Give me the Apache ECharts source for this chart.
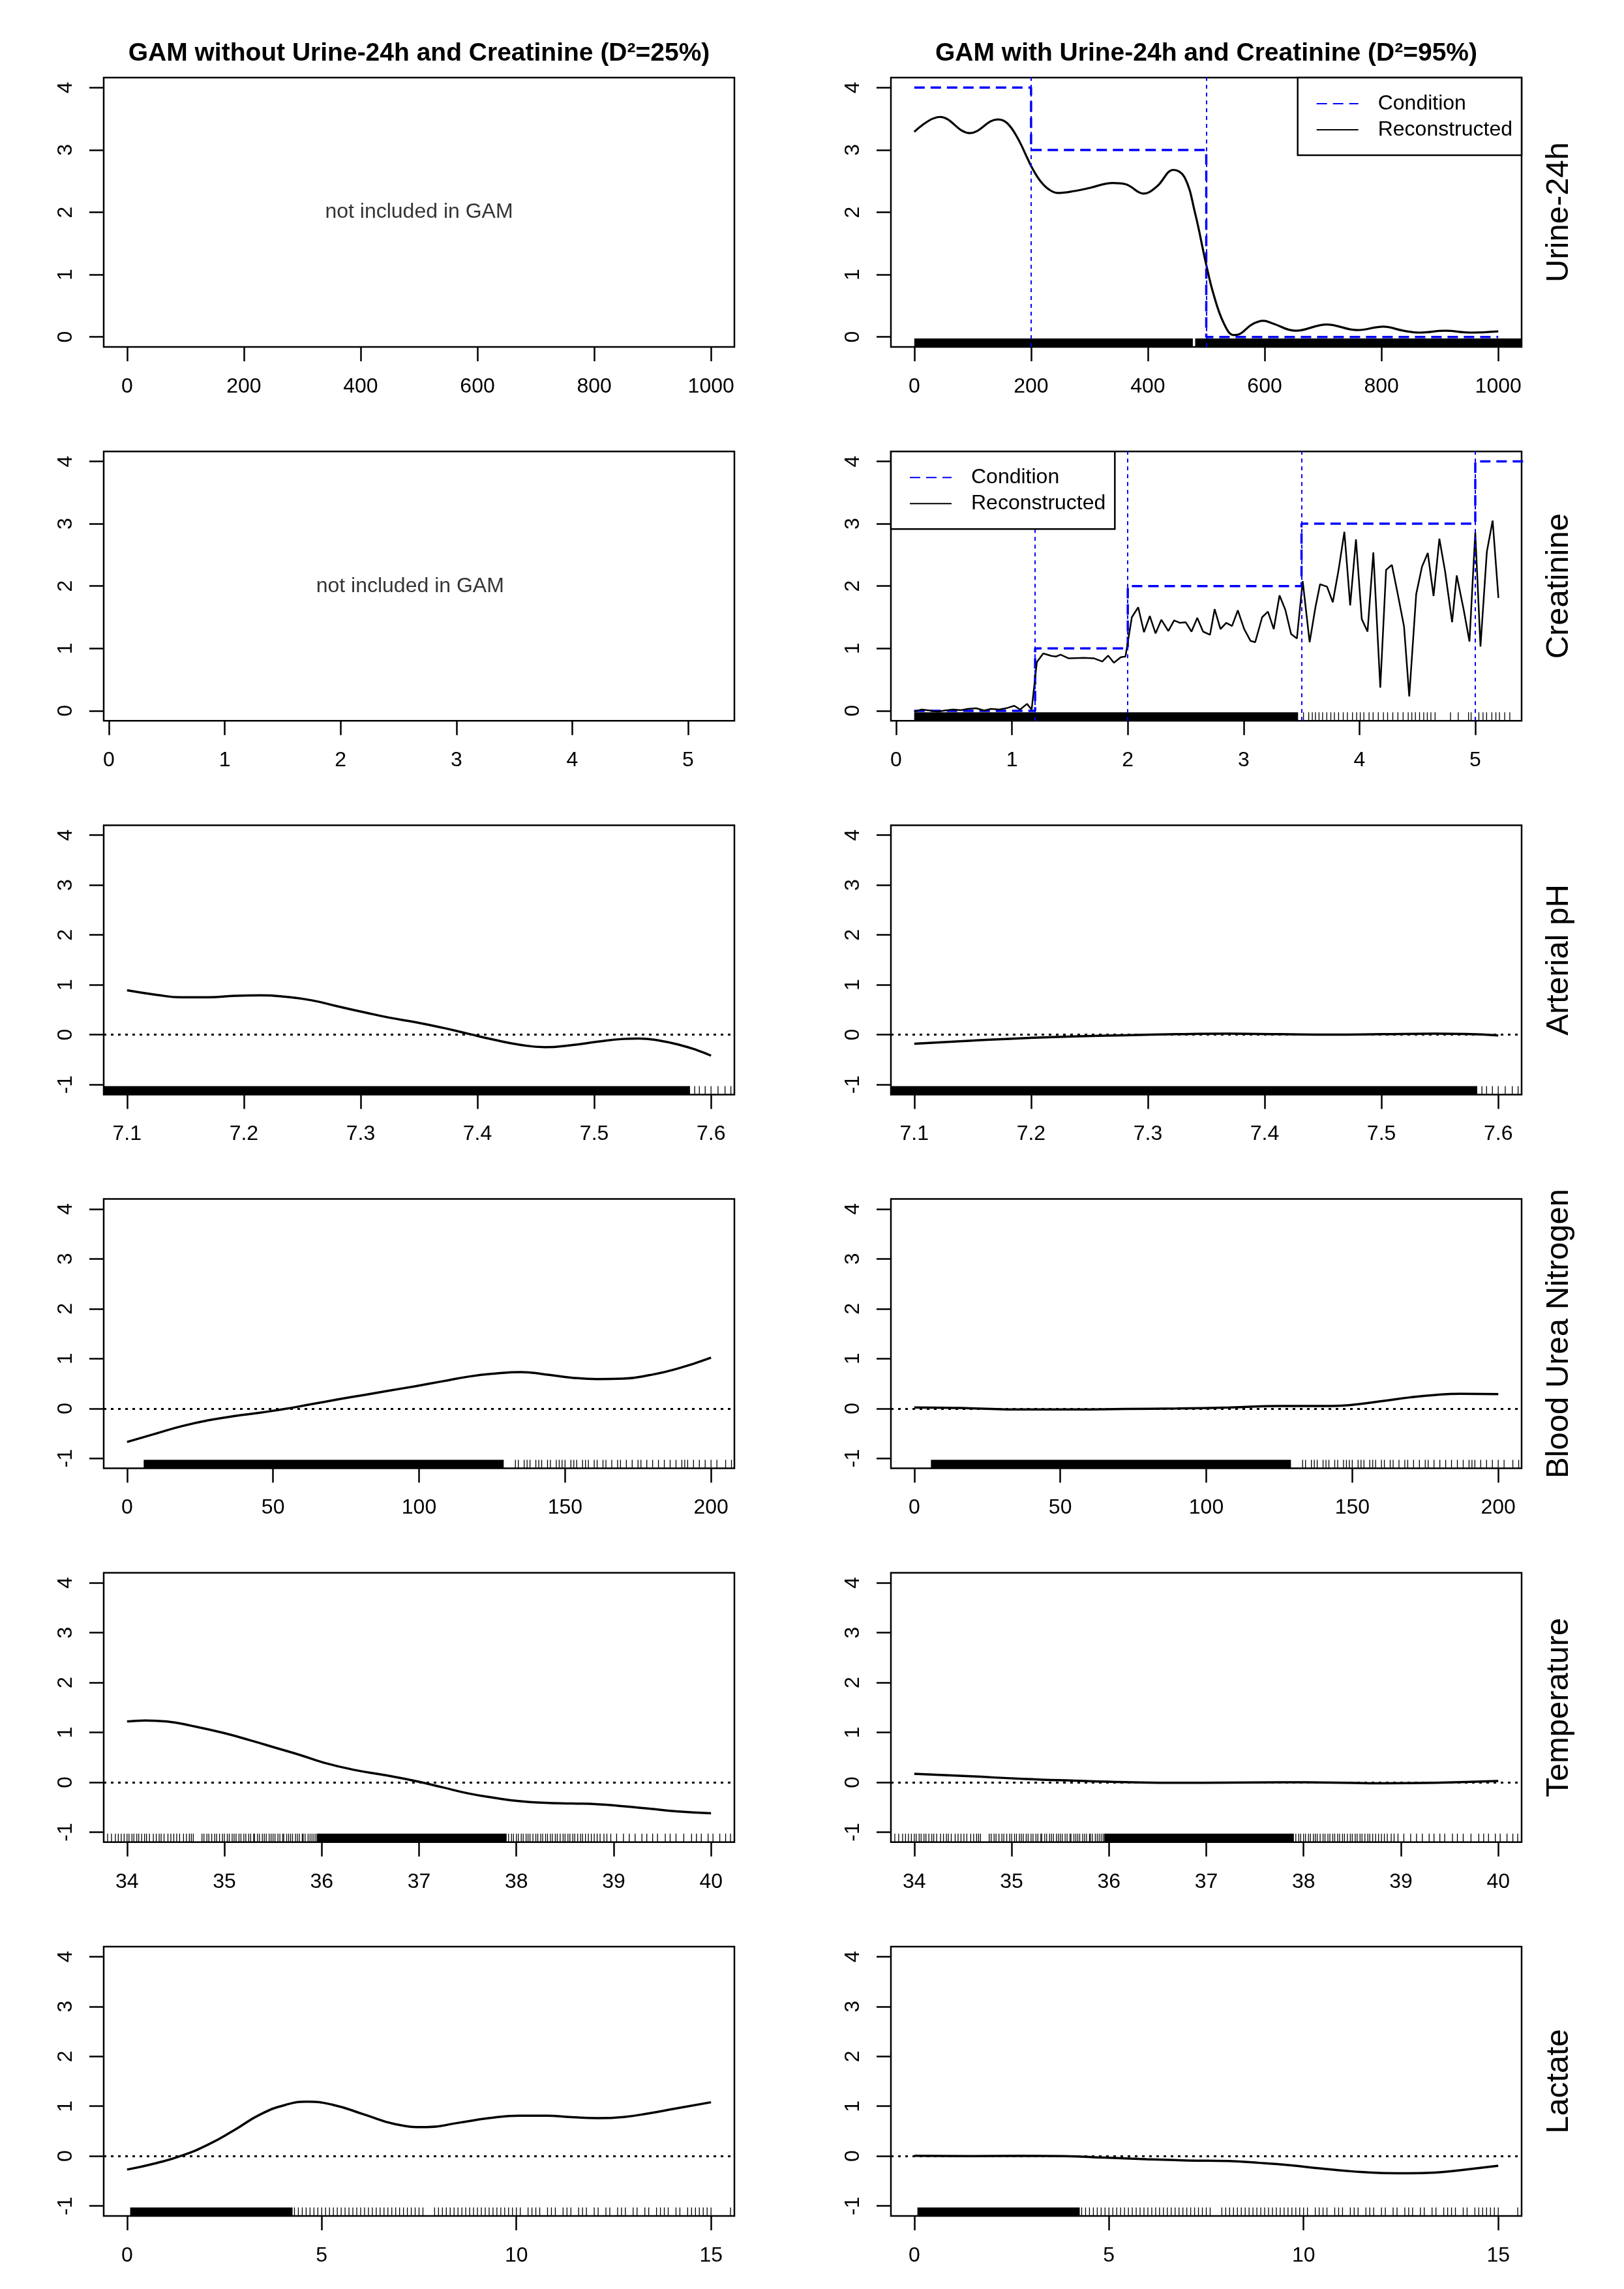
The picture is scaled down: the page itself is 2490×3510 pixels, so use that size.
<!DOCTYPE html>
<html><head><meta charset="utf-8">
<script src="https://cdn.jsdelivr.net/npm/echarts@6/dist/echarts.min.js"></script>
<style>html,body{margin:0;padding:0;background:#fff}#c{width:2490px;height:3510px}</style>
</head><body><div id="c"></div><script>
// ---------------- data ----------------
const titleLeft = 'GAM without Urine-24h and Creatinine (D\u00B2=25%)';
const titleRight = 'GAM with Urine-24h and Creatinine (D\u00B2=95%)';
const noteText = 'not included in GAM';
const panelNames = ['Urine-24h', 'Creatinine', 'Arterial pH', 'Blood Urea Nitrogen', 'Temperature', 'Lactate'];

const xTicksUrine = [0, 200, 400, 600, 800, 1000];
const xTicksCreat = [0, 1, 2, 3, 4, 5];
const xTicksPH = [7.1, 7.2, 7.3, 7.4, 7.5, 7.6];
const xTicksBUN = [0, 50, 100, 150, 200];
const xTicksTemp = [34, 35, 36, 37, 38, 39, 40];
const xTicksLact = [0, 5, 10, 15];
const yTicksTop = [0, 1, 2, 3, 4];
const yTicksLow = [-1, 0, 1, 2, 3, 4];

// Urine-24h (with model)
const urineCondBreaks = [0, 200, 500, 1000];
const urineCondLevels = [4, 3, 0];
const urineX = [0, 44, 95, 143, 159, 177, 194, 203, 216, 230, 245, 274, 300, 340, 362, 393, 415, 444, 463, 481, 499, 512, 530, 547, 558, 578, 598, 613, 653, 706, 759, 803, 838, 865, 909, 953, 1000];
const urineY = [3.29, 3.53, 3.27, 3.49, 3.43, 3.19, 2.86, 2.69, 2.50, 2.37, 2.31, 2.34, 2.39, 2.47, 2.45, 2.30, 2.41, 2.68, 2.56, 1.98, 1.20, 0.70, 0.22, 0.03, 0.05, 0.20, 0.26, 0.22, 0.10, 0.20, 0.11, 0.165, 0.10, 0.07, 0.10, 0.07, 0.09];
const urineRugBands = [[0, 477], [481, 1045]];
const urineRugTicks = [];

// Creatinine (with model)
const creatCondBreaks = [0.156, 1.2, 2, 3.5, 5, 5.6];
const creatCondLevels = [0, 1, 2, 3, 4];
const creatX = [0.156, 0.22, 0.29, 0.36, 0.42, 0.49, 0.56, 0.62, 0.69, 0.76, 0.82, 0.89, 0.95, 1.02, 1.07, 1.13, 1.17, 1.215, 1.27, 1.34, 1.38, 1.42, 1.49, 1.62, 1.71, 1.78, 1.83, 1.88, 1.94, 1.98, 2.035, 2.09, 2.14, 2.19, 2.24, 2.29, 2.35, 2.40, 2.45, 2.50, 2.55, 2.60, 2.65, 2.71, 2.75, 2.80, 2.85, 2.90, 2.95, 3.005, 3.06, 3.10, 3.16, 3.21, 3.26, 3.31, 3.36, 3.41, 3.46, 3.51, 3.57, 3.62, 3.66, 3.72, 3.77, 3.82, 3.87, 3.92, 3.97, 4.02, 4.07, 4.12, 4.18, 4.23, 4.28, 4.33, 4.385, 4.43, 4.49, 4.54, 4.59, 4.64, 4.69, 4.74, 4.80, 4.84, 4.90, 4.95, 5.00, 5.045, 5.10, 5.15, 5.20];
const creatY = [-0.015, 0.02, 0.005, -0.015, 0.005, 0.02, 0.01, 0.03, 0.04, 0.005, 0.03, 0.02, 0.04, 0.08, 0.02, 0.11, 0.02, 0.78, 0.92, 0.88, 0.87, 0.90, 0.84, 0.85, 0.84, 0.79, 0.885, 0.77, 0.86, 0.87, 1.50, 1.66, 1.26, 1.52, 1.24, 1.46, 1.28, 1.45, 1.41, 1.42, 1.27, 1.49, 1.27, 1.22, 1.63, 1.31, 1.41, 1.36, 1.61, 1.31, 1.12, 1.10, 1.50, 1.59, 1.31, 1.85, 1.62, 1.23, 1.16, 2.08, 1.10, 1.66, 2.03, 1.99, 1.74, 2.26, 2.87, 1.69, 2.75, 1.47, 1.27, 2.54, 0.37, 2.26, 2.34, 1.88, 1.35, 0.23, 1.87, 2.31, 2.53, 1.84, 2.76, 2.23, 1.42, 2.17, 1.62, 1.11, 2.86, 1.03, 2.55, 3.05, 1.81];
const creatRugBands = [[0.156, 3.47]];
const creatRugTicks = [3.517, 3.562, 3.593, 3.620, 3.651, 3.682, 3.718, 3.753, 3.784, 3.820, 3.860, 3.896, 3.940, 3.976, 4.007, 4.038, 4.083, 4.118, 4.163, 4.207, 4.243, 4.288, 4.332, 4.377, 4.421, 4.452, 4.483, 4.519, 4.555, 4.586, 4.617, 4.653, 4.786, 4.853, 4.942, 4.964, 5.031, 5.067, 5.098, 5.143, 5.178, 5.209, 5.254, 5.298];

// Arterial pH
const phLeftX = [7.1, 7.125, 7.147, 7.169, 7.192, 7.214, 7.236, 7.258, 7.28, 7.303, 7.325, 7.347, 7.37, 7.392, 7.414, 7.436, 7.458, 7.48, 7.503, 7.525, 7.538, 7.556, 7.574, 7.588, 7.6];
const phLeftY = [0.89, 0.80, 0.75, 0.75, 0.78, 0.79, 0.76, 0.69, 0.57, 0.45, 0.34, 0.25, 0.14, 0.02, -0.10, -0.20, -0.25, -0.21, -0.14, -0.085, -0.076, -0.12, -0.21, -0.31, -0.42];
const phRightX = [7.1, 7.149, 7.193, 7.237, 7.281, 7.325, 7.37, 7.413, 7.457, 7.5, 7.546, 7.572, 7.6];
const phRightY = [-0.18, -0.12, -0.07, -0.035, -0.01, 0.01, 0.02, 0.01, 0, 0.01, 0.02, 0.015, -0.015];
const phRugBands = [[7.08, 7.582]];
const phRugTicks = [7.586, 7.59, 7.595, 7.6, 7.606, 7.612, 7.617];

// Blood Urea Nitrogen
const bunLeftX = [0, 10, 19, 28, 37, 46, 54, 63, 72, 81, 90, 99, 108, 117, 126, 135, 143, 152, 161, 170, 179, 188, 200];
const bunLeftY = [-0.67, -0.50, -0.35, -0.235, -0.15, -0.08, -0.01, 0.085, 0.18, 0.27, 0.36, 0.45, 0.545, 0.64, 0.70, 0.73, 0.685, 0.62, 0.59, 0.60, 0.67, 0.79, 1.02];
const bunRightX = [0, 11, 19, 37, 55, 72, 90, 108, 125, 143, 152, 161, 170, 178, 187, 200];
const bunRightY = [0.02, 0.015, 0.005, -0.02, -0.02, -0.01, 0, 0.02, 0.05, 0.05, 0.085, 0.155, 0.225, 0.27, 0.295, 0.29];
const bunRugBands = [[5.7, 129]];
const bunRugTicks = [133, 134, 136, 137, 138, 140, 141, 142, 144, 145, 147, 148, 149, 150, 152, 153, 154, 156, 157, 158, 160, 161, 163, 164, 166, 168, 169, 171, 173, 175, 176, 178, 180, 182, 184, 186, 188, 190, 191, 192, 194, 196, 198, 200, 202, 205, 207];

// Temperature
const tempLeftX = [34, 34.19, 34.41, 34.67, 34.99, 35.26, 35.53, 35.79, 36.01, 36.33, 36.65, 36.97, 37.24, 37.5, 37.77, 38.04, 38.3, 38.57, 38.84, 39.1, 39.37, 39.64, 40];
const tempLeftY = [1.22, 1.24, 1.22, 1.13, 0.99, 0.845, 0.69, 0.54, 0.40, 0.25, 0.145, 0.024, -0.10, -0.22, -0.31, -0.38, -0.41, -0.425, -0.44, -0.48, -0.53, -0.58, -0.62];
const tempRightX = [34, 34.58, 35.11, 35.64, 36.17, 36.7, 37.23, 37.76, 38.29, 38.82, 39.35, 40];
const tempRightY = [0.17, 0.12, 0.07, 0.034, 0.005, -0.01, -0.005, 0, -0.005, -0.02, -0.01, 0.025];
const tempRugBands = [[35.95, 37.9]];
const tempRugTicks = [33.8, 33.84, 33.88, 33.91, 33.94, 33.97, 34.0, 34.02, 34.05, 34.07, 34.1, 34.12, 34.15, 34.18, 34.2, 34.23, 34.27, 34.3, 34.33, 34.35, 34.38, 34.42, 34.45, 34.48, 34.51, 34.54, 34.58, 34.61, 34.64, 34.66, 34.68, 34.77, 34.79, 34.82, 34.84, 34.87, 34.9, 34.92, 34.95, 34.98, 35.0, 35.03, 35.05, 35.08, 35.1, 35.12, 35.15, 35.17, 35.2, 35.22, 35.25, 35.27, 35.3, 35.31, 35.34, 35.36, 35.39, 35.41, 35.43, 35.46, 35.48, 35.5, 35.52, 35.55, 35.57, 35.6, 35.61, 35.64, 35.66, 35.68, 35.7, 35.73, 35.75, 35.77, 35.8, 35.81, 35.83, 35.86, 35.88, 35.9, 35.92, 35.94,
  37.92, 37.95, 37.97, 38.0, 38.02, 38.05, 38.07, 38.1, 38.12, 38.14, 38.17, 38.2, 38.22, 38.25, 38.27, 38.3, 38.32, 38.35, 38.37, 38.4, 38.42, 38.45, 38.48, 38.5, 38.53, 38.55, 38.58, 38.6, 38.63, 38.66, 38.68, 38.71, 38.74, 38.77, 38.8, 38.83, 38.86, 38.9, 38.93, 38.97, 39.03, 39.1, 39.16, 39.22, 39.29, 39.34, 39.4, 39.45, 39.53, 39.58, 39.64, 39.72, 39.8, 39.85, 39.9, 39.97, 40.02, 40.09, 40.15, 40.2];

// Lactate
const lactLeftX = [0, 0.75, 1.41, 2.08, 2.75, 3.42, 4.08, 4.62, 5.28, 6.09, 6.89, 7.69, 8.49, 9.29, 10.09, 10.76, 11.42, 12.09, 12.76, 13.42, 14.09, 15];
const lactLeftY = [-0.27, -0.14, 0.01, 0.23, 0.52, 0.835, 1.03, 1.09, 1.03, 0.835, 0.64, 0.58, 0.665, 0.76, 0.81, 0.81, 0.78, 0.76, 0.785, 0.86, 0.955, 1.08];
const lactRightX = [0, 1.46, 2.78, 3.84, 4.9, 5.96, 7.02, 8.08, 8.87, 9.66, 10.46, 11.25, 12.05, 12.71, 13.37, 14.04, 15];
const lactRightY = [0.005, 0, 0.005, 0, -0.03, -0.063, -0.087, -0.10, -0.136, -0.184, -0.25, -0.306, -0.34, -0.345, -0.33, -0.28, -0.194];
const lactRugBands = [[0.08, 4.25]];
const lactRugTicks = [4.3, 4.4, 4.5, 4.6, 4.7, 4.8, 4.9, 5.0, 5.1, 5.2, 5.3, 5.4, 5.5, 5.6, 5.7, 5.8, 5.9, 6.0, 6.1, 6.2, 6.3, 6.4, 6.5, 6.6, 6.7, 6.8, 6.9, 7.0, 7.1, 7.2, 7.3, 7.4, 7.5, 7.6, 7.9, 8.0, 8.1, 8.2, 8.3, 8.4, 8.5, 8.6, 8.7, 8.8, 8.9, 9.0, 9.1, 9.2, 9.3, 9.4, 9.5, 9.6, 9.7, 9.8, 9.9, 10.0, 10.1, 10.3, 10.4, 10.5, 10.6, 10.8, 10.9, 11.0, 11.2, 11.3, 11.4, 11.6, 11.7, 11.8, 12.0, 12.1, 12.3, 12.4, 12.6, 12.7, 12.8, 13.0, 13.1, 13.3, 13.4, 13.6, 13.7, 13.8, 13.9, 14.1, 14.2, 14.4, 14.5, 14.6, 14.7, 14.8, 14.9, 15.0, 15.5];

// ---------------- layout / style ----------------
const FONT = "'Liberation Sans', Arial, Helvetica, sans-serif";
const BLUE = '#0000FF';
const colLeft = [159, 1366];
const gridW = 967, gridH = 413;
const rowTop = [0, 1, 2, 3, 4, 5].map(i => 119 + i * 573.2);
const xRanges = [[-40, 1040], [-0.045, 5.40], [7.08, 7.62], [-8, 208], [33.76, 40.24], [-0.6, 15.6]];
const xTicksRows = [xTicksUrine, xTicksCreat, xTicksPH, xTicksBUN, xTicksTemp, xTicksLact];
const plainFmt = v => String(v);

const zip = (xs, ys) => xs.map((x, i) => [x, ys[i]]);
function stepData(breaks, levels) {
  const d = levels.map((l, k) => [breaks[k], l]);
  d.push([breaks[breaks.length - 1], levels[levels.length - 1]]);
  return d;
}

const grids = [], xAxes = [], yAxes = [], series = [];
for (let r = 0; r < 6; r++) {
  for (let c = 0; c < 2; c++) {
    const i = r * 2 + c;
    grids.push({ left: colLeft[c], top: rowTop[r], width: gridW, height: gridH, show: true, borderColor: '#000', borderWidth: 2.5, backgroundColor: 'transparent', containLabel: false });
    xAxes.push({
      type: 'value', gridIndex: i, min: xRanges[r][0], max: xRanges[r][1],
      splitLine: { show: false }, axisLine: { show: false, onZero: false },
      axisTick: { show: true, inside: false, length: 22, lineStyle: { color: '#000', width: 2.5 }, customValues: xTicksRows[r] },
      axisLabel: { show: true, margin: 45, color: '#000', fontSize: 32, fontFamily: FONT, customValues: xTicksRows[r], hideOverlap: false, formatter: plainFmt }
    });
    const yt = r < 2 ? yTicksTop : yTicksLow;
    yAxes.push({
      type: 'value', gridIndex: i, min: r < 2 ? -0.16 : -1.2, max: r < 2 ? 4.16 : 4.2,
      splitLine: { show: false }, axisLine: { show: false, onZero: false },
      axisTick: { show: true, inside: false, length: 22, lineStyle: { color: '#000', width: 2.5 }, customValues: yt },
      axisLabel: { show: true, margin: 42, rotate: 90, color: '#000', fontSize: 32, fontFamily: FONT, customValues: yt, hideOverlap: false, formatter: plainFmt }
    });
  }
}

function rugSeries(i, bands, ticks) {
  const data = bands.map(b => [b[0], b[1], 1]).concat(ticks.map(t => [t, t, 0]));
  return {
    type: 'custom', xAxisIndex: i, yAxisIndex: i, clip: true, silent: true, z: 3,
    encode: { x: [0, 1], y: 2 },
    renderItem: function (params, api) {
      const cs = params.coordSys;
      const yb = cs.y + cs.height;
      const x1 = api.coord([api.value(0), 0])[0];
      const x2 = api.coord([api.value(1), 0])[0];
      if (api.value(2) === 1) {
        return { type: 'rect', shape: { x: x1, y: yb - 13, width: Math.max(1, x2 - x1), height: 13 }, style: { fill: '#000' } };
      }
      return { type: 'line', shape: { x1: x1, y1: yb, x2: x1, y2: yb - 13 }, style: { stroke: '#000', lineWidth: 1.3 } };
    },
    data: data
  };
}
function noteSeries(i, x) {
  return {
    type: 'scatter', xAxisIndex: i, yAxisIndex: i, data: [[x, 2]], symbolSize: 1, silent: true,
    itemStyle: { color: 'rgba(0,0,0,0)' },
    label: { show: true, position: 'inside', formatter: noteText, fontSize: 32, color: '#000', fontFamily: FONT }
  };
}
function condSeries(i, breaks, levels, ablines) {
  return {
    name: 'Condition', type: 'line', xAxisIndex: i, yAxisIndex: i, step: 'end', symbol: 'none', showSymbol: false,
    data: stepData(breaks, levels), z: 2,
    lineStyle: { color: BLUE, width: 3.5, type: [16, 9] }, itemStyle: { color: BLUE },
    markLine: {
      silent: true, symbol: ['none', 'none'], label: { show: false },
      lineStyle: { color: BLUE, width: 2, type: [6, 6] },
      data: ablines.map(v => ({ xAxis: v }))
    }
  };
}
function curveSeries(i, xs, ys, name, smooth, width, zeroLine) {
  const s = {
    name: name, type: 'line', xAxisIndex: i, yAxisIndex: i, symbol: 'none', showSymbol: false, smooth: smooth, z: 4,
    data: zip(xs, ys), lineStyle: { color: '#000', width: width }, itemStyle: { color: '#000' }
  };
  if (zeroLine) {
    s.markLine = { silent: true, symbol: ['none', 'none'], label: { show: false }, lineStyle: { color: '#000', width: 3, type: [4, 7] }, data: [{ yAxis: 0 }] };
  }
  return s;
}

// Row 1
series.push(noteSeries(0, 500));
series.push(condSeries(1, urineCondBreaks, urineCondLevels, [200, 500]));
series.push(curveSeries(1, urineX, urineY, 'Reconstructed', 0.4, 3.2, false));
series.push(rugSeries(1, urineRugBands, urineRugTicks));
// Row 2
series.push(noteSeries(2, 2.6));
series.push(condSeries(3, creatCondBreaks, creatCondLevels, [1.2, 2, 3.5, 5]));
series.push(curveSeries(3, creatX, creatY, 'Reconstructed', false, 2.5, false));
series.push(rugSeries(3, creatRugBands, creatRugTicks));
// Rows 3-6
const lowerPanels = [
  [phLeftX, phLeftY, phRightX, phRightY, phRugBands, phRugTicks],
  [bunLeftX, bunLeftY, bunRightX, bunRightY, bunRugBands, bunRugTicks],
  [tempLeftX, tempLeftY, tempRightX, tempRightY, tempRugBands, tempRugTicks],
  [lactLeftX, lactLeftY, lactRightX, lactRightY, lactRugBands, lactRugTicks]
];
lowerPanels.forEach((p, k) => {
  const r = k + 2;
  series.push(curveSeries(r * 2, p[0], p[1], panelNames[r] + ' smooth (without)', 0.5, 3.5, true));
  series.push(rugSeries(r * 2, p[4], p[5]));
  series.push(curveSeries(r * 2 + 1, p[2], p[3], panelNames[r] + ' smooth (with)', 0.5, 3.5, true));
  series.push(rugSeries(r * 2 + 1, p[4], p[5]));
});

const legendBase = {
  data: ['Condition', 'Reconstructed'], orient: 'vertical', padding: [24, 14, 23, 28],
  itemWidth: 64, itemHeight: 2, itemGap: 8, borderColor: '#000', borderWidth: 2.5, borderRadius: 0,
  backgroundColor: '#fff', selectedMode: false, z: 10,
  itemStyle: { color: 'rgba(0,0,0,0)', borderWidth: 0 },
  textStyle: { fontSize: 32, color: '#000', fontFamily: FONT, padding: [0, 0, 0, 25] }
};

const graphics = [
  { type: 'text', x: colLeft[0] + gridW / 2, y: 82, style: { text: titleLeft, font: 'bold 39px ' + FONT, fill: '#000', align: 'center', verticalAlign: 'middle', textAlign: 'center', textVerticalAlign: 'middle' } },
  { type: 'text', x: colLeft[1] + gridW / 2, y: 82, style: { text: titleRight, font: 'bold 39px ' + FONT, fill: '#000', align: 'center', verticalAlign: 'middle', textAlign: 'center', textVerticalAlign: 'middle' } }
];
panelNames.forEach((n, r) => {
  graphics.push({ type: 'text', x: 2390, y: rowTop[r] + gridH / 2, rotation: Math.PI / 2,
    style: { text: n, font: '49px ' + FONT, fill: '#000', align: 'center', verticalAlign: 'middle', textAlign: 'center', textVerticalAlign: 'middle' } });
});

const chart = echarts.init(document.getElementById('c'), null, { renderer: 'canvas', width: 2490, height: 3510 });
chart.setOption({
  animation: false,
  backgroundColor: '#fff',
  grid: grids, xAxis: xAxes, yAxis: yAxes, series: series,
  legend: [
    Object.assign({}, legendBase, { right: 2490 - colLeft[1] - gridW, top: rowTop[0] }),
    Object.assign({}, legendBase, { left: colLeft[1], top: rowTop[1] })
  ],
  graphic: { elements: graphics }
});
</script></body></html>
